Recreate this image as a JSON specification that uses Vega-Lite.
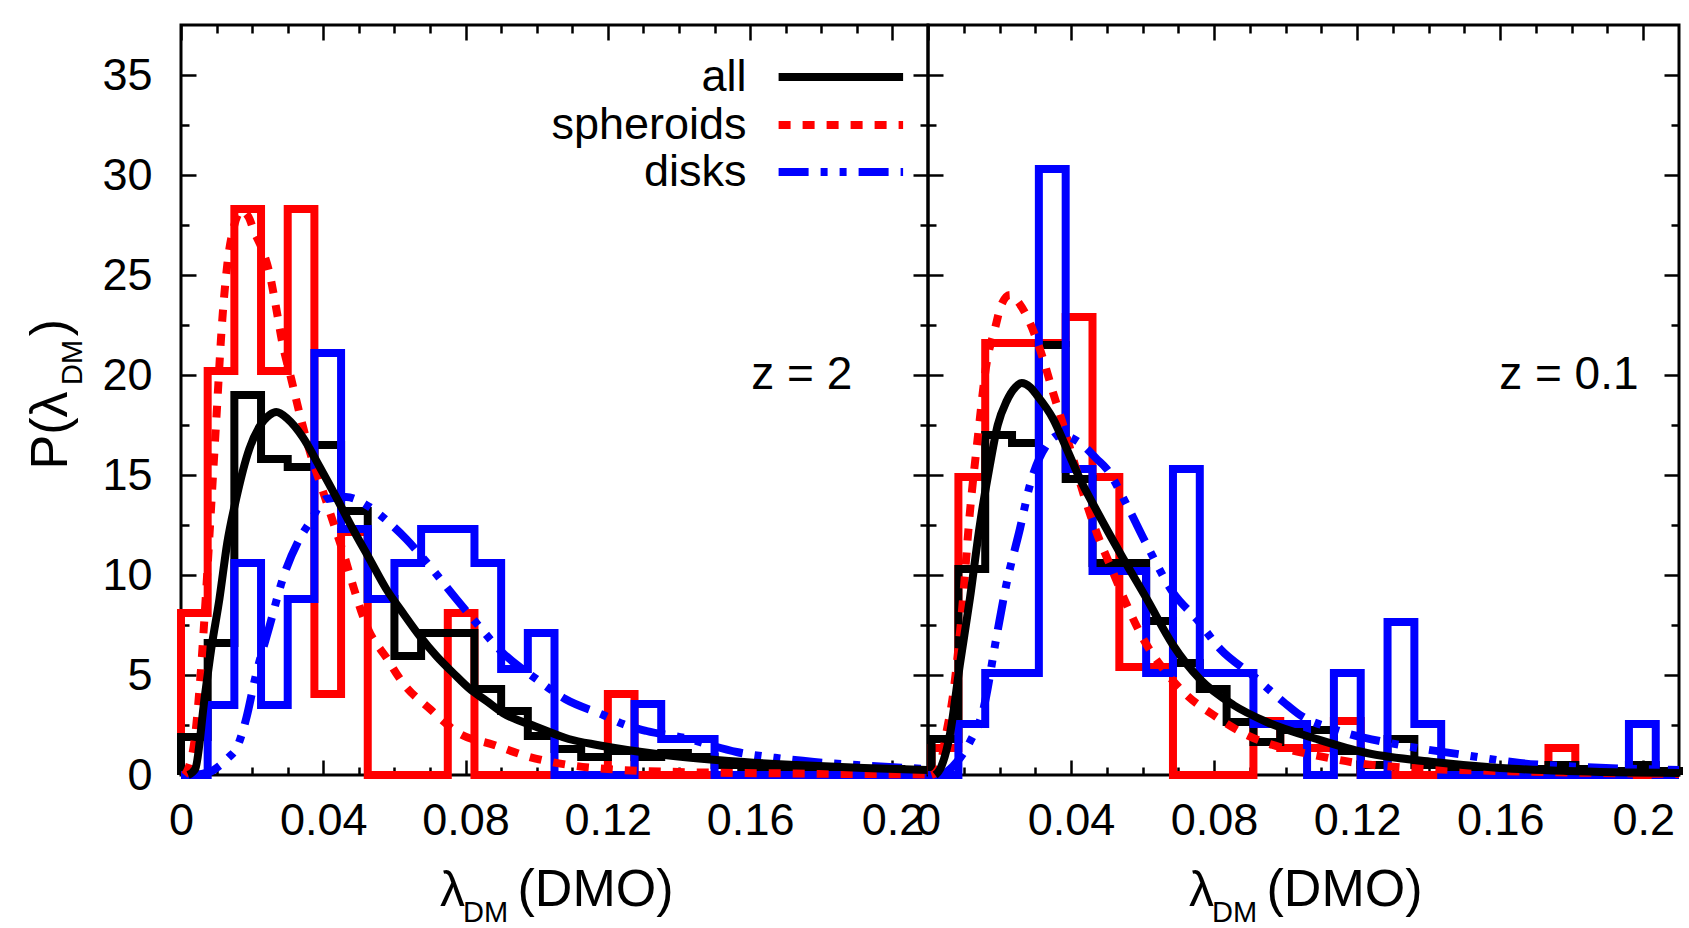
{
  "$schema": "https://vega.github.io/schema/vega-lite/v6.json",
  "background": "white",
  "padding": {"left": 22, "top": 22, "right": 8, "bottom": 8},
  "bounds": "flush",
  "spacing": 0,
  "datasets": {
    "hist": [
      {"panel":"z2","series":"spheroids","x":0,"p":0},{"panel":"z2","series":"spheroids","x":0,"p":8.1},{"panel":"z2","series":"spheroids","x":0.0075,"p":20.2},{"panel":"z2","series":"spheroids","x":0.015,"p":28.3},{"panel":"z2","series":"spheroids","x":0.0225,"p":20.2},{"panel":"z2","series":"spheroids","x":0.03,"p":28.3},{"panel":"z2","series":"spheroids","x":0.0375,"p":4.05},{"panel":"z2","series":"spheroids","x":0.045,"p":12.15},{"panel":"z2","series":"spheroids","x":0.0525,"p":0},{"panel":"z2","series":"spheroids","x":0.06,"p":0},{"panel":"z2","series":"spheroids","x":0.0675,"p":0},{"panel":"z2","series":"spheroids","x":0.075,"p":8.1},{"panel":"z2","series":"spheroids","x":0.0825,"p":0},{"panel":"z2","series":"spheroids","x":0.09,"p":0},{"panel":"z2","series":"spheroids","x":0.0975,"p":0},{"panel":"z2","series":"spheroids","x":0.105,"p":0},{"panel":"z2","series":"spheroids","x":0.1125,"p":0},{"panel":"z2","series":"spheroids","x":0.12,"p":4.05},{"panel":"z2","series":"spheroids","x":0.1275,"p":0},{"panel":"z2","series":"spheroids","x":0.135,"p":0},{"panel":"z2","series":"spheroids","x":0.1425,"p":0},{"panel":"z2","series":"spheroids","x":0.15,"p":0},{"panel":"z2","series":"spheroids","x":0.1575,"p":0},{"panel":"z2","series":"spheroids","x":0.165,"p":0},{"panel":"z2","series":"spheroids","x":0.1725,"p":0},{"panel":"z2","series":"spheroids","x":0.18,"p":0},{"panel":"z2","series":"spheroids","x":0.1875,"p":0},{"panel":"z2","series":"spheroids","x":0.195,"p":0},{"panel":"z2","series":"spheroids","x":0.2025,"p":0},{"panel":"z2","series":"spheroids","x":0.21,"p":0},

      {"panel":"z2","series":"all","x":0,"p":0},{"panel":"z2","series":"all","x":0,"p":1.9},{"panel":"z2","series":"all","x":0.0075,"p":6.6},{"panel":"z2","series":"all","x":0.015,"p":19.0},{"panel":"z2","series":"all","x":0.0225,"p":15.8},{"panel":"z2","series":"all","x":0.03,"p":15.4},{"panel":"z2","series":"all","x":0.0375,"p":16.5},{"panel":"z2","series":"all","x":0.045,"p":13.2},{"panel":"z2","series":"all","x":0.0525,"p":8.8},{"panel":"z2","series":"all","x":0.06,"p":5.95},{"panel":"z2","series":"all","x":0.0675,"p":7.1},{"panel":"z2","series":"all","x":0.075,"p":7.1},{"panel":"z2","series":"all","x":0.0825,"p":4.3},{"panel":"z2","series":"all","x":0.09,"p":3.2},{"panel":"z2","series":"all","x":0.0975,"p":1.95},{"panel":"z2","series":"all","x":0.105,"p":1.3},{"panel":"z2","series":"all","x":0.1125,"p":0.9},{"panel":"z2","series":"all","x":0.12,"p":1.2},{"panel":"z2","series":"all","x":0.1275,"p":0.9},{"panel":"z2","series":"all","x":0.135,"p":1.1},{"panel":"z2","series":"all","x":0.1425,"p":0.9},{"panel":"z2","series":"all","x":0.15,"p":0.5},{"panel":"z2","series":"all","x":0.1575,"p":0.4},{"panel":"z2","series":"all","x":0.165,"p":0.3},{"panel":"z2","series":"all","x":0.1725,"p":0.3},{"panel":"z2","series":"all","x":0.18,"p":0.2},{"panel":"z2","series":"all","x":0.1875,"p":0.2},{"panel":"z2","series":"all","x":0.195,"p":0.3},{"panel":"z2","series":"all","x":0.2025,"p":0.2},{"panel":"z2","series":"all","x":0.21,"p":0},

      {"panel":"z2","series":"disks","x":0,"p":0},{"panel":"z2","series":"disks","x":0.0075,"p":3.5},{"panel":"z2","series":"disks","x":0.015,"p":10.6},{"panel":"z2","series":"disks","x":0.0225,"p":3.5},{"panel":"z2","series":"disks","x":0.03,"p":8.8},{"panel":"z2","series":"disks","x":0.0375,"p":21.1},{"panel":"z2","series":"disks","x":0.045,"p":12.3},{"panel":"z2","series":"disks","x":0.0525,"p":8.8},{"panel":"z2","series":"disks","x":0.06,"p":10.6},{"panel":"z2","series":"disks","x":0.0675,"p":12.3},{"panel":"z2","series":"disks","x":0.075,"p":12.3},{"panel":"z2","series":"disks","x":0.0825,"p":10.6},{"panel":"z2","series":"disks","x":0.09,"p":5.3},{"panel":"z2","series":"disks","x":0.0975,"p":7.1},{"panel":"z2","series":"disks","x":0.105,"p":0},{"panel":"z2","series":"disks","x":0.1125,"p":0},{"panel":"z2","series":"disks","x":0.12,"p":0},{"panel":"z2","series":"disks","x":0.1275,"p":3.55},{"panel":"z2","series":"disks","x":0.135,"p":1.8},{"panel":"z2","series":"disks","x":0.1425,"p":1.8},{"panel":"z2","series":"disks","x":0.15,"p":0},{"panel":"z2","series":"disks","x":0.1575,"p":0},{"panel":"z2","series":"disks","x":0.165,"p":0},{"panel":"z2","series":"disks","x":0.1725,"p":0},{"panel":"z2","series":"disks","x":0.18,"p":0},{"panel":"z2","series":"disks","x":0.1875,"p":0},{"panel":"z2","series":"disks","x":0.195,"p":0},{"panel":"z2","series":"disks","x":0.2025,"p":0},{"panel":"z2","series":"disks","x":0.21,"p":0},

      {"panel":"z01","series":"spheroids","x":0,"p":0},{"panel":"z01","series":"spheroids","x":0.001,"p":1.35},{"panel":"z01","series":"spheroids","x":0.0085,"p":14.9},{"panel":"z01","series":"spheroids","x":0.016,"p":21.6},{"panel":"z01","series":"spheroids","x":0.0235,"p":21.6},{"panel":"z01","series":"spheroids","x":0.031,"p":21.6},{"panel":"z01","series":"spheroids","x":0.0385,"p":22.9},{"panel":"z01","series":"spheroids","x":0.046,"p":14.9},{"panel":"z01","series":"spheroids","x":0.0535,"p":5.4},{"panel":"z01","series":"spheroids","x":0.061,"p":5.4},{"panel":"z01","series":"spheroids","x":0.0685,"p":0},{"panel":"z01","series":"spheroids","x":0.076,"p":0},{"panel":"z01","series":"spheroids","x":0.0835,"p":0},{"panel":"z01","series":"spheroids","x":0.091,"p":2.7},{"panel":"z01","series":"spheroids","x":0.0985,"p":1.35},{"panel":"z01","series":"spheroids","x":0.106,"p":1.35},{"panel":"z01","series":"spheroids","x":0.1135,"p":2.7},{"panel":"z01","series":"spheroids","x":0.121,"p":0},{"panel":"z01","series":"spheroids","x":0.1285,"p":0},{"panel":"z01","series":"spheroids","x":0.136,"p":0},{"panel":"z01","series":"spheroids","x":0.1435,"p":0},{"panel":"z01","series":"spheroids","x":0.151,"p":0},{"panel":"z01","series":"spheroids","x":0.1585,"p":0},{"panel":"z01","series":"spheroids","x":0.166,"p":0},{"panel":"z01","series":"spheroids","x":0.1735,"p":1.35},{"panel":"z01","series":"spheroids","x":0.181,"p":0},{"panel":"z01","series":"spheroids","x":0.1885,"p":0},{"panel":"z01","series":"spheroids","x":0.196,"p":0},{"panel":"z01","series":"spheroids","x":0.2035,"p":0},{"panel":"z01","series":"spheroids","x":0.21,"p":0},

      {"panel":"z01","series":"all","x":0,"p":0},{"panel":"z01","series":"all","x":0.001,"p":1.8},{"panel":"z01","series":"all","x":0.0085,"p":10.3},{"panel":"z01","series":"all","x":0.016,"p":17.0},{"panel":"z01","series":"all","x":0.0235,"p":16.6},{"panel":"z01","series":"all","x":0.031,"p":21.5},{"panel":"z01","series":"all","x":0.0385,"p":14.8},{"panel":"z01","series":"all","x":0.046,"p":10.6},{"panel":"z01","series":"all","x":0.0535,"p":10.6},{"panel":"z01","series":"all","x":0.061,"p":7.7},{"panel":"z01","series":"all","x":0.0685,"p":5.6},{"panel":"z01","series":"all","x":0.076,"p":4.3},{"panel":"z01","series":"all","x":0.0835,"p":2.65},{"panel":"z01","series":"all","x":0.091,"p":1.65},{"panel":"z01","series":"all","x":0.0985,"p":2.25},{"panel":"z01","series":"all","x":0.106,"p":2.25},{"panel":"z01","series":"all","x":0.1135,"p":1.2},{"panel":"z01","series":"all","x":0.121,"p":0.5},{"panel":"z01","series":"all","x":0.1285,"p":1.8},{"panel":"z01","series":"all","x":0.136,"p":0.5},{"panel":"z01","series":"all","x":0.1435,"p":0.4},{"panel":"z01","series":"all","x":0.151,"p":0.3},{"panel":"z01","series":"all","x":0.1585,"p":0.3},{"panel":"z01","series":"all","x":0.166,"p":0.3},{"panel":"z01","series":"all","x":0.1735,"p":0.5},{"panel":"z01","series":"all","x":0.181,"p":0.3},{"panel":"z01","series":"all","x":0.1885,"p":0.2},{"panel":"z01","series":"all","x":0.196,"p":0.5},{"panel":"z01","series":"all","x":0.2035,"p":0.2},{"panel":"z01","series":"all","x":0.21,"p":0},

      {"panel":"z01","series":"disks","x":0,"p":0},{"panel":"z01","series":"disks","x":0.001,"p":0},{"panel":"z01","series":"disks","x":0.0085,"p":2.55},{"panel":"z01","series":"disks","x":0.016,"p":5.1},{"panel":"z01","series":"disks","x":0.0235,"p":5.1},{"panel":"z01","series":"disks","x":0.031,"p":30.3},{"panel":"z01","series":"disks","x":0.0385,"p":15.3},{"panel":"z01","series":"disks","x":0.046,"p":10.2},{"panel":"z01","series":"disks","x":0.0535,"p":10.2},{"panel":"z01","series":"disks","x":0.061,"p":5.1},{"panel":"z01","series":"disks","x":0.0685,"p":15.3},{"panel":"z01","series":"disks","x":0.076,"p":5.1},{"panel":"z01","series":"disks","x":0.0835,"p":5.1},{"panel":"z01","series":"disks","x":0.091,"p":2.55},{"panel":"z01","series":"disks","x":0.0985,"p":2.55},{"panel":"z01","series":"disks","x":0.106,"p":0},{"panel":"z01","series":"disks","x":0.1135,"p":5.1},{"panel":"z01","series":"disks","x":0.121,"p":0},{"panel":"z01","series":"disks","x":0.1285,"p":7.65},{"panel":"z01","series":"disks","x":0.136,"p":2.55},{"panel":"z01","series":"disks","x":0.1435,"p":0},{"panel":"z01","series":"disks","x":0.151,"p":0},{"panel":"z01","series":"disks","x":0.1585,"p":0},{"panel":"z01","series":"disks","x":0.166,"p":0},{"panel":"z01","series":"disks","x":0.1735,"p":0},{"panel":"z01","series":"disks","x":0.181,"p":0},{"panel":"z01","series":"disks","x":0.1885,"p":0},{"panel":"z01","series":"disks","x":0.196,"p":2.55},{"panel":"z01","series":"disks","x":0.2035,"p":0},{"panel":"z01","series":"disks","x":0.21,"p":0}
    ],
    "fit": [
      {"panel":"z2","series":"all","x":0.002,"p":0},{"panel":"z2","series":"all","x":0.004,"p":0.3},{"panel":"z2","series":"all","x":0.0066,"p":3.8},{"panel":"z2","series":"all","x":0.0085,"p":6.3},{"panel":"z2","series":"all","x":0.0108,"p":8.8},{"panel":"z2","series":"all","x":0.013,"p":11.6},{"panel":"z2","series":"all","x":0.0155,"p":13.8},{"panel":"z2","series":"all","x":0.0192,"p":16.3},{"panel":"z2","series":"all","x":0.022,"p":17.4},{"panel":"z2","series":"all","x":0.0249,"p":18.0},{"panel":"z2","series":"all","x":0.0268,"p":18.15},{"panel":"z2","series":"all","x":0.03,"p":17.8},{"panel":"z2","series":"all","x":0.0342,"p":16.9},{"panel":"z2","series":"all","x":0.039,"p":15.4},{"panel":"z2","series":"all","x":0.0436,"p":13.9},{"panel":"z2","series":"all","x":0.0483,"p":12.3},{"panel":"z2","series":"all","x":0.053,"p":10.8},{"panel":"z2","series":"all","x":0.0577,"p":9.3},{"panel":"z2","series":"all","x":0.0624,"p":8.1},{"panel":"z2","series":"all","x":0.0671,"p":6.95},{"panel":"z2","series":"all","x":0.0718,"p":5.95},{"panel":"z2","series":"all","x":0.0765,"p":5.1},{"panel":"z2","series":"all","x":0.0812,"p":4.3},{"panel":"z2","series":"all","x":0.0859,"p":3.7},{"panel":"z2","series":"all","x":0.0905,"p":3.1},{"panel":"z2","series":"all","x":0.1,"p":2.4},{"panel":"z2","series":"all","x":0.109,"p":1.8},{"panel":"z2","series":"all","x":0.117,"p":1.5},{"panel":"z2","series":"all","x":0.136,"p":1.0},{"panel":"z2","series":"all","x":0.154,"p":0.7},{"panel":"z2","series":"all","x":0.173,"p":0.5},{"panel":"z2","series":"all","x":0.192,"p":0.35},{"panel":"z2","series":"all","x":0.21,"p":0.25},

      {"panel":"z2","series":"spheroids","x":0.001,"p":0},{"panel":"z2","series":"spheroids","x":0.002,"p":0.3},{"panel":"z2","series":"spheroids","x":0.004,"p":2.0},{"panel":"z2","series":"spheroids","x":0.0055,"p":5},{"panel":"z2","series":"spheroids","x":0.007,"p":9},{"panel":"z2","series":"spheroids","x":0.0085,"p":13.5},{"panel":"z2","series":"spheroids","x":0.01,"p":18},{"panel":"z2","series":"spheroids","x":0.0115,"p":22.5},{"panel":"z2","series":"spheroids","x":0.013,"p":25.5},{"panel":"z2","series":"spheroids","x":0.015,"p":27.5},{"panel":"z2","series":"spheroids","x":0.017,"p":28.2},{"panel":"z2","series":"spheroids","x":0.019,"p":27.9},{"panel":"z2","series":"spheroids","x":0.0205,"p":27.2},{"panel":"z2","series":"spheroids","x":0.023,"p":26.2},{"panel":"z2","series":"spheroids","x":0.025,"p":25.0},{"panel":"z2","series":"spheroids","x":0.0267,"p":23.4},{"panel":"z2","series":"spheroids","x":0.0285,"p":21.6},{"panel":"z2","series":"spheroids","x":0.031,"p":19.8},{"panel":"z2","series":"spheroids","x":0.0333,"p":18.1},{"panel":"z2","series":"spheroids","x":0.0365,"p":16.0},{"panel":"z2","series":"spheroids","x":0.0395,"p":14.4},{"panel":"z2","series":"spheroids","x":0.0423,"p":12.9},{"panel":"z2","series":"spheroids","x":0.046,"p":10.9},{"panel":"z2","series":"spheroids","x":0.049,"p":9.1},{"panel":"z2","series":"spheroids","x":0.0522,"p":7.45},{"panel":"z2","series":"spheroids","x":0.058,"p":5.8},{"panel":"z2","series":"spheroids","x":0.0624,"p":4.6},{"panel":"z2","series":"spheroids","x":0.07,"p":3.3},{"panel":"z2","series":"spheroids","x":0.078,"p":2.1},{"panel":"z2","series":"spheroids","x":0.088,"p":1.5},{"panel":"z2","series":"spheroids","x":0.098,"p":0.9},{"panel":"z2","series":"spheroids","x":0.109,"p":0.5},{"panel":"z2","series":"spheroids","x":0.12,"p":0.3},{"panel":"z2","series":"spheroids","x":0.14,"p":0.15},{"panel":"z2","series":"spheroids","x":0.17,"p":0.08},{"panel":"z2","series":"spheroids","x":0.21,"p":0.03},

      {"panel":"z2","series":"disks","x":0.003,"p":0},{"panel":"z2","series":"disks","x":0.008,"p":0.15},{"panel":"z2","series":"disks","x":0.0108,"p":0.46},{"panel":"z2","series":"disks","x":0.0135,"p":0.9},{"panel":"z2","series":"disks","x":0.0155,"p":1.3},{"panel":"z2","series":"disks","x":0.0183,"p":2.8},{"panel":"z2","series":"disks","x":0.021,"p":4.95},{"panel":"z2","series":"disks","x":0.0249,"p":7.45},{"panel":"z2","series":"disks","x":0.0286,"p":9.8},{"panel":"z2","series":"disks","x":0.0333,"p":11.8},{"panel":"z2","series":"disks","x":0.0361,"p":12.6},{"panel":"z2","series":"disks","x":0.0408,"p":13.8},{"panel":"z2","series":"disks","x":0.0464,"p":13.9},{"panel":"z2","series":"disks","x":0.053,"p":13.4},{"panel":"z2","series":"disks","x":0.0586,"p":12.6},{"panel":"z2","series":"disks","x":0.0633,"p":11.8},{"panel":"z2","series":"disks","x":0.0699,"p":10.45},{"panel":"z2","series":"disks","x":0.0774,"p":8.8},{"panel":"z2","series":"disks","x":0.0821,"p":7.8},{"panel":"z2","series":"disks","x":0.0905,"p":6.1},{"panel":"z2","series":"disks","x":0.0999,"p":4.8},{"panel":"z2","series":"disks","x":0.108,"p":3.8},{"panel":"z2","series":"disks","x":0.1187,"p":3.0},{"panel":"z2","series":"disks","x":0.1243,"p":2.55},{"panel":"z2","series":"disks","x":0.1309,"p":2.2},{"panel":"z2","series":"disks","x":0.143,"p":1.8},{"panel":"z2","series":"disks","x":0.1487,"p":1.5},{"panel":"z2","series":"disks","x":0.1562,"p":1.15},{"panel":"z2","series":"disks","x":0.167,"p":0.86},{"panel":"z2","series":"disks","x":0.178,"p":0.65},{"panel":"z2","series":"disks","x":0.19,"p":0.5},{"panel":"z2","series":"disks","x":0.21,"p":0.3},

      {"panel":"z01","series":"all","x":0.002,"p":0},{"panel":"z01","series":"all","x":0.0034,"p":0.3},{"panel":"z01","series":"all","x":0.0062,"p":2.1},{"panel":"z01","series":"all","x":0.0089,"p":5.5},{"panel":"z01","series":"all","x":0.0117,"p":8.8},{"panel":"z01","series":"all","x":0.0145,"p":12.5},{"panel":"z01","series":"all","x":0.0173,"p":15.5},{"panel":"z01","series":"all","x":0.0195,"p":17.5},{"panel":"z01","series":"all","x":0.022,"p":18.7},{"panel":"z01","series":"all","x":0.0245,"p":19.4},{"panel":"z01","series":"all","x":0.0262,"p":19.6},{"panel":"z01","series":"all","x":0.0285,"p":19.4},{"panel":"z01","series":"all","x":0.0304,"p":19.0},{"panel":"z01","series":"all","x":0.035,"p":17.8},{"panel":"z01","series":"all","x":0.0388,"p":16.3},{"panel":"z01","series":"all","x":0.0425,"p":14.8},{"panel":"z01","series":"all","x":0.0472,"p":13.2},{"panel":"z01","series":"all","x":0.0537,"p":11.1},{"panel":"z01","series":"all","x":0.0612,"p":8.8},{"panel":"z01","series":"all","x":0.0685,"p":6.5},{"panel":"z01","series":"all","x":0.076,"p":4.8},{"panel":"z01","series":"all","x":0.0854,"p":3.5},{"panel":"z01","series":"all","x":0.0947,"p":2.65},{"panel":"z01","series":"all","x":0.1087,"p":1.8},{"panel":"z01","series":"all","x":0.1227,"p":1.1},{"panel":"z01","series":"all","x":0.1413,"p":0.65},{"panel":"z01","series":"all","x":0.16,"p":0.35},{"panel":"z01","series":"all","x":0.1786,"p":0.2},{"panel":"z01","series":"all","x":0.21,"p":0.1},

      {"panel":"z01","series":"spheroids","x":0.001,"p":0},{"panel":"z01","series":"spheroids","x":0.002,"p":0.1},{"panel":"z01","series":"spheroids","x":0.0034,"p":0.5},{"panel":"z01","series":"spheroids","x":0.005,"p":2},{"panel":"z01","series":"spheroids","x":0.007,"p":4.0},{"panel":"z01","series":"spheroids","x":0.0094,"p":8.0},{"panel":"z01","series":"spheroids","x":0.0117,"p":13.1},{"panel":"z01","series":"spheroids","x":0.014,"p":17.0},{"panel":"z01","series":"spheroids","x":0.0164,"p":20.6},{"panel":"z01","series":"spheroids","x":0.0187,"p":22.3},{"panel":"z01","series":"spheroids","x":0.0205,"p":23.5},{"panel":"z01","series":"spheroids","x":0.0229,"p":24.0},{"panel":"z01","series":"spheroids","x":0.025,"p":23.7},{"panel":"z01","series":"spheroids","x":0.0285,"p":22.6},{"panel":"z01","series":"spheroids","x":0.0322,"p":20.8},{"panel":"z01","series":"spheroids","x":0.035,"p":19.1},{"panel":"z01","series":"spheroids","x":0.0378,"p":17.5},{"panel":"z01","series":"spheroids","x":0.0406,"p":15.8},{"panel":"z01","series":"spheroids","x":0.0434,"p":14.1},{"panel":"z01","series":"spheroids","x":0.0472,"p":12.1},{"panel":"z01","series":"spheroids","x":0.0509,"p":10.5},{"panel":"z01","series":"spheroids","x":0.0556,"p":8.5},{"panel":"z01","series":"spheroids","x":0.0602,"p":6.8},{"panel":"z01","series":"spheroids","x":0.0658,"p":5.3},{"panel":"z01","series":"spheroids","x":0.0723,"p":4.0},{"panel":"z01","series":"spheroids","x":0.0798,"p":3.0},{"panel":"z01","series":"spheroids","x":0.0891,"p":2.0},{"panel":"z01","series":"spheroids","x":0.1003,"p":1.3},{"panel":"z01","series":"spheroids","x":0.1087,"p":0.97},{"panel":"z01","series":"spheroids","x":0.12,"p":0.6},{"panel":"z01","series":"spheroids","x":0.141,"p":0.3},{"panel":"z01","series":"spheroids","x":0.16,"p":0.2},{"panel":"z01","series":"spheroids","x":0.21,"p":0.05},

      {"panel":"z01","series":"disks","x":0.004,"p":0},{"panel":"z01","series":"disks","x":0.0062,"p":0.3},{"panel":"z01","series":"disks","x":0.0117,"p":1.65},{"panel":"z01","series":"disks","x":0.0155,"p":3.3},{"panel":"z01","series":"disks","x":0.0192,"p":6.95},{"panel":"z01","series":"disks","x":0.022,"p":9.6},{"panel":"z01","series":"disks","x":0.0257,"p":12.3},{"panel":"z01","series":"disks","x":0.0285,"p":14.5},{"panel":"z01","series":"disks","x":0.0332,"p":16.5},{"panel":"z01","series":"disks","x":0.0369,"p":17.0},{"panel":"z01","series":"disks","x":0.0425,"p":16.6},{"panel":"z01","series":"disks","x":0.0472,"p":15.8},{"panel":"z01","series":"disks","x":0.05,"p":15.3},{"panel":"z01","series":"disks","x":0.0556,"p":13.5},{"panel":"z01","series":"disks","x":0.0612,"p":11.5},{"panel":"z01","series":"disks","x":0.0686,"p":9.1},{"panel":"z01","series":"disks","x":0.0751,"p":7.8},{"panel":"z01","series":"disks","x":0.0817,"p":6.3},{"panel":"z01","series":"disks","x":0.091,"p":4.95},{"panel":"z01","series":"disks","x":0.0994,"p":3.65},{"panel":"z01","series":"disks","x":0.104,"p":3.0},{"panel":"z01","series":"disks","x":0.1134,"p":2.3},{"panel":"z01","series":"disks","x":0.132,"p":1.5},{"panel":"z01","series":"disks","x":0.15,"p":1.0},{"panel":"z01","series":"disks","x":0.1655,"p":0.6},{"panel":"z01","series":"disks","x":0.183,"p":0.4},{"panel":"z01","series":"disks","x":0.21,"p":0.25}
    ]
  },
  "hconcat": [
    {
      "width": 747,
      "height": 750,
      "resolve": {"axis": {"x": "independent", "y": "independent"}},
      "layer": [
        {
          "data": {"name": "hist"},
          "transform": [{"filter": "datum.panel == 'z2' && datum.series == 'spheroids'"}],
          "mark": {"type": "line", "interpolate": "step-after", "color": "#ff0000", "strokeWidth": 8, "strokeJoin": "miter"},
          "encoding": {
            "x": {"field": "x", "type": "quantitative", "scale": {"domain": [0, 0.21], "nice": false, "zero": false},
              "axis": {"orient": "bottom", "values": [0, 0.04, 0.08, 0.12, 0.16, 0.2], "format": ".2~f", "tickSize": -15, "labelPadding": 38, "title": "λ", "titleFontSize": 50, "titleX": 271, "titleY": 130, "titleAlign": "center", "titleBaseline": "alphabetic", "titleAngle": 0}},
            "y": {"field": "p", "type": "quantitative", "scale": {"domain": [0, 37.5], "nice": false},
              "axis": {"orient": "left", "values": [0, 5, 10, 15, 20, 25, 30, 35], "tickSize": -15, "labelPadding": 44, "title": "P(λ", "titleFontSize": 52, "titleAngle": -90, "titleX": -115, "titleY": 405, "titleAlign": "center", "titleBaseline": "alphabetic"}},
            "order": {"value": null}
          }
        },
        {
          "data": {"name": "hist"},
          "transform": [{"filter": "datum.panel == 'z2' && datum.series == 'all'"}],
          "mark": {"type": "line", "interpolate": "step-after", "color": "#000000", "strokeWidth": 8, "strokeJoin": "miter"},
          "encoding": {
            "x": {"field": "x", "type": "quantitative", "scale": {"domain": [0, 0.21], "nice": false, "zero": false},
              "axis": {"orient": "bottom", "values": [0.01, 0.02, 0.03, 0.05, 0.06, 0.07, 0.09, 0.1, 0.11, 0.13, 0.14, 0.15, 0.17, 0.18, 0.19], "tickSize": -8, "labels": false, "title": "DM", "titleFontSize": 29, "titleX": 304, "titleY": 146, "titleAlign": "center", "titleBaseline": "alphabetic", "titleAngle": 0}},
            "y": {"field": "p", "type": "quantitative", "scale": {"domain": [0, 37.5], "nice": false},
              "axis": {"orient": "left", "values": [2.5, 7.5, 12.5, 17.5, 22.5, 27.5, 32.5], "tickSize": -8, "labels": false, "title": "DM", "titleFontSize": 29, "titleAngle": -90, "titleX": -100, "titleY": 337, "titleAlign": "center", "titleBaseline": "alphabetic"}},
            "order": {"value": null}
          }
        },
        {
          "data": {"name": "hist"},
          "transform": [{"filter": "datum.panel == 'z2' && datum.series == 'disks'"}],
          "mark": {"type": "line", "interpolate": "step-after", "color": "#0000ff", "strokeWidth": 8, "strokeJoin": "miter"},
          "encoding": {
            "x": {"field": "x", "type": "quantitative", "scale": {"domain": [0, 0.21], "nice": false, "zero": false},
              "axis": {"orient": "top", "values": [0, 0.04, 0.08, 0.12, 0.16, 0.2], "tickSize": -15, "labels": false, "title": "(DMO)", "titleFontSize": 52, "titleX": 414, "titleY": 880, "titleAlign": "center", "titleBaseline": "alphabetic", "titleAngle": 0}},
            "y": {"field": "p", "type": "quantitative", "scale": {"domain": [0, 37.5], "nice": false},
              "axis": {"orient": "right", "values": [0, 5, 10, 15, 20, 25, 30, 35], "tickSize": -15, "labels": false, "title": ")", "titleFontSize": 52, "titleAngle": -90, "titleX": -862, "titleY": 302, "titleAlign": "center", "titleBaseline": "alphabetic"}},
            "order": {"value": null}
          }
        },
        {
          "data": {"name": "fit"},
          "transform": [{"filter": "datum.panel == 'z2' && datum.series == 'spheroids'"}],
          "mark": {"type": "line", "interpolate": "monotone", "color": "#ff0000", "strokeWidth": 8, "strokeDash": [12, 12]},
          "encoding": {
            "x": {"field": "x", "type": "quantitative", "scale": {"domain": [0, 0.21], "nice": false, "zero": false},
              "axis": {"orient": "top", "values": [0.01, 0.02, 0.03, 0.05, 0.06, 0.07, 0.09, 0.1, 0.11, 0.13, 0.14, 0.15, 0.17, 0.18, 0.19], "tickSize": -8, "labels": false, "title": null}},
            "y": {"field": "p", "type": "quantitative", "scale": {"domain": [0, 37.5], "nice": false},
              "axis": {"orient": "right", "values": [2.5, 7.5, 12.5, 17.5, 22.5, 27.5, 32.5], "tickSize": -8, "labels": false, "title": null}}
          }
        },
        {
          "data": {"name": "fit"},
          "transform": [{"filter": "datum.panel == 'z2' && datum.series == 'disks'"}],
          "mark": {"type": "line", "interpolate": "monotone", "color": "#0000ff", "strokeWidth": 8, "strokeDash": [30, 12, 7, 12, 7, 12]},
          "encoding": {
            "x": {"field": "x", "type": "quantitative", "axis": null},
            "y": {"field": "p", "type": "quantitative", "axis": null}
          }
        },
        {
          "data": {"name": "fit"},
          "transform": [{"filter": "datum.panel == 'z2' && datum.series == 'all'"}],
          "mark": {"type": "line", "interpolate": "monotone", "color": "#000000", "strokeWidth": 8},
          "encoding": {
            "x": {"field": "x", "type": "quantitative", "axis": null},
            "y": {"field": "p", "type": "quantitative", "axis": null}
          }
        },
        {
          "data": {"values": [{"label": "z = 2"}]},
          "mark": {"type": "text", "fontSize": 46, "align": "center", "baseline": "middle", "color": "black"},
          "encoding": {"x": {"datum": 0.1745, "axis": null}, "y": {"datum": 20, "axis": null}, "text": {"field": "label"}}
        },
        {
          "data": {"values": [{"label": "all"}]},
          "mark": {"type": "text", "fontSize": 45, "align": "right", "baseline": "middle", "color": "black"},
          "encoding": {"x": {"datum": 0.159, "axis": null}, "y": {"datum": 34.9, "axis": null}, "text": {"field": "label"}}
        },
        {
          "data": {"values": [{"label": "spheroids"}]},
          "mark": {"type": "text", "fontSize": 45, "align": "right", "baseline": "middle", "color": "black"},
          "encoding": {"x": {"datum": 0.159, "axis": null}, "y": {"datum": 32.5, "axis": null}, "text": {"field": "label"}}
        },
        {
          "data": {"values": [{"label": "disks"}]},
          "mark": {"type": "text", "fontSize": 45, "align": "right", "baseline": "middle", "color": "black"},
          "encoding": {"x": {"datum": 0.159, "axis": null}, "y": {"datum": 30.15, "axis": null}, "text": {"field": "label"}}
        },
        {
          "data": {"values": [{"series": "all"}]},
          "mark": {"type": "rule", "color": "#000000", "strokeWidth": 8},
          "encoding": {"x": {"datum": 0.168, "axis": null}, "x2": {"datum": 0.203}, "y": {"datum": 34.9, "axis": null}}
        },
        {
          "data": {"values": [{"series": "spheroids"}]},
          "mark": {"type": "rule", "color": "#ff0000", "strokeWidth": 8, "strokeDash": [12, 12]},
          "encoding": {"x": {"datum": 0.168, "axis": null}, "x2": {"datum": 0.203}, "y": {"datum": 32.5, "axis": null}}
        },
        {
          "data": {"values": [{"series": "disks"}]},
          "mark": {"type": "rule", "color": "#0000ff", "strokeWidth": 8, "strokeDash": [30, 12, 7, 12, 7, 12]},
          "encoding": {"x": {"datum": 0.168, "axis": null}, "x2": {"datum": 0.203}, "y": {"datum": 30.15, "axis": null}}
        }
      ]
    },
    {
      "width": 751,
      "height": 750,
      "resolve": {"axis": {"x": "independent", "y": "independent"}},
      "layer": [
        {
          "data": {"name": "hist"},
          "transform": [{"filter": "datum.panel == 'z01' && datum.series == 'spheroids'"}],
          "mark": {"type": "line", "interpolate": "step-after", "color": "#ff0000", "strokeWidth": 8, "strokeJoin": "miter"},
          "encoding": {
            "x": {"field": "x", "type": "quantitative", "scale": {"domain": [0, 0.21], "nice": false, "zero": false},
              "axis": {"orient": "bottom", "values": [0, 0.04, 0.08, 0.12, 0.16, 0.2], "format": ".2~f", "tickSize": -15, "labelPadding": 38, "title": "λ", "titleFontSize": 50, "titleX": 273, "titleY": 130, "titleAlign": "center", "titleBaseline": "alphabetic", "titleAngle": 0}},
            "y": {"field": "p", "type": "quantitative", "scale": {"domain": [0, 37.5], "nice": false},
              "axis": {"orient": "left", "values": [0, 5, 10, 15, 20, 25, 30, 35], "tickSize": -15, "labels": false, "title": null}},
            "order": {"value": null}
          }
        },
        {
          "data": {"name": "hist"},
          "transform": [{"filter": "datum.panel == 'z01' && datum.series == 'all'"}],
          "mark": {"type": "line", "interpolate": "step-after", "color": "#000000", "strokeWidth": 8, "strokeJoin": "miter"},
          "encoding": {
            "x": {"field": "x", "type": "quantitative", "scale": {"domain": [0, 0.21], "nice": false, "zero": false},
              "axis": {"orient": "bottom", "values": [0.01, 0.02, 0.03, 0.05, 0.06, 0.07, 0.09, 0.1, 0.11, 0.13, 0.14, 0.15, 0.17, 0.18, 0.19], "tickSize": -8, "labels": false, "title": "DM", "titleFontSize": 29, "titleX": 306, "titleY": 146, "titleAlign": "center", "titleBaseline": "alphabetic", "titleAngle": 0}},
            "y": {"field": "p", "type": "quantitative", "scale": {"domain": [0, 37.5], "nice": false},
              "axis": {"orient": "left", "values": [2.5, 7.5, 12.5, 17.5, 22.5, 27.5, 32.5], "tickSize": -8, "labels": false, "title": null}},
            "order": {"value": null}
          }
        },
        {
          "data": {"name": "hist"},
          "transform": [{"filter": "datum.panel == 'z01' && datum.series == 'disks'"}],
          "mark": {"type": "line", "interpolate": "step-after", "color": "#0000ff", "strokeWidth": 8, "strokeJoin": "miter"},
          "encoding": {
            "x": {"field": "x", "type": "quantitative", "scale": {"domain": [0, 0.21], "nice": false, "zero": false},
              "axis": {"orient": "top", "values": [0, 0.04, 0.08, 0.12, 0.16, 0.2], "tickSize": -15, "labels": false, "title": "(DMO)", "titleFontSize": 52, "titleX": 416, "titleY": 880, "titleAlign": "center", "titleBaseline": "alphabetic", "titleAngle": 0}},
            "y": {"field": "p", "type": "quantitative", "scale": {"domain": [0, 37.5], "nice": false},
              "axis": {"orient": "right", "values": [0, 5, 10, 15, 20, 25, 30, 35], "tickSize": -15, "labels": false, "title": null}},
            "order": {"value": null}
          }
        },
        {
          "data": {"name": "fit"},
          "transform": [{"filter": "datum.panel == 'z01' && datum.series == 'spheroids'"}],
          "mark": {"type": "line", "interpolate": "monotone", "color": "#ff0000", "strokeWidth": 8, "strokeDash": [12, 12]},
          "encoding": {
            "x": {"field": "x", "type": "quantitative", "scale": {"domain": [0, 0.21], "nice": false, "zero": false},
              "axis": {"orient": "top", "values": [0.01, 0.02, 0.03, 0.05, 0.06, 0.07, 0.09, 0.1, 0.11, 0.13, 0.14, 0.15, 0.17, 0.18, 0.19], "tickSize": -8, "labels": false, "title": null}},
            "y": {"field": "p", "type": "quantitative", "scale": {"domain": [0, 37.5], "nice": false},
              "axis": {"orient": "right", "values": [2.5, 7.5, 12.5, 17.5, 22.5, 27.5, 32.5], "tickSize": -8, "labels": false, "title": null}}
          }
        },
        {
          "data": {"name": "fit"},
          "transform": [{"filter": "datum.panel == 'z01' && datum.series == 'disks'"}],
          "mark": {"type": "line", "interpolate": "monotone", "color": "#0000ff", "strokeWidth": 8, "strokeDash": [30, 12, 7, 12, 7, 12]},
          "encoding": {
            "x": {"field": "x", "type": "quantitative", "axis": null},
            "y": {"field": "p", "type": "quantitative", "axis": null}
          }
        },
        {
          "data": {"name": "fit"},
          "transform": [{"filter": "datum.panel == 'z01' && datum.series == 'all'"}],
          "mark": {"type": "line", "interpolate": "monotone", "color": "#000000", "strokeWidth": 8},
          "encoding": {
            "x": {"field": "x", "type": "quantitative", "axis": null},
            "y": {"field": "p", "type": "quantitative", "axis": null}
          }
        },
        {
          "data": {"values": [{"label": "z = 0.1"}]},
          "mark": {"type": "text", "fontSize": 46, "align": "center", "baseline": "middle", "color": "black"},
          "encoding": {"x": {"datum": 0.1792, "axis": null}, "y": {"datum": 20, "axis": null}, "text": {"field": "label"}}
        }
      ]
    }
  ],
  "config": {
    "font": "Liberation Sans",
    "view": {"stroke": "black", "strokeWidth": 3},
    "axis": {"domain": false, "grid": false, "tickColor": "black", "tickWidth": 2.5, "labelColor": "black", "labelFont": "Liberation Sans", "labelFontSize": 45, "titleFont": "Liberation Sans", "titleFontWeight": "normal", "titleColor": "black", "labelFlush": false, "labelOverlap": false},
    "text": {"font": "Liberation Sans", "fontSize": 44, "color": "black"}
  }
}
